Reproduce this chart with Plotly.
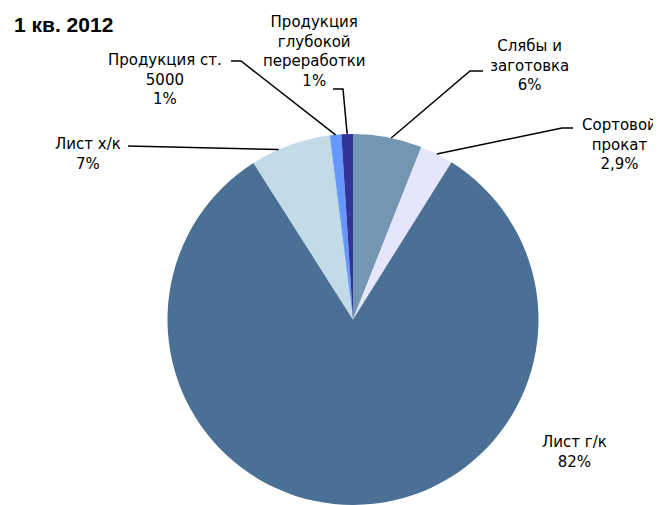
import math
import plotly.graph_objects as go

# ---- data ----
labels = ["Слябы и<br>заготовка", "Сортовой<br>прокат", "Лист г/к", "Лист х/к",
          "Продукция ст.<br>5000", "Продукция<br>глубокой<br>переработки"]
values = [6, 2.9, 82, 7, 1, 1]
pct_text = ["6%", "2,9%", "82%", "7%", "1%", "1%"]
colors = ["#7397B3", "#E6E6FA", "#4A7096", "#C3DBE6", "#6699FF", "#333399"]
title = "1 кв. 2012"

W, H = 661, 505
OFF = 8  # page body margin
CX, CY, R = 353, 319.5, 185.5

def px(x):
    return (x - OFF) / W

def py(y):
    return 1 - (y - OFF) / H

fig = go.Figure(go.Pie(
    labels=[l.replace("<br>", " ") for l in labels],
    values=values,
    sort=False,
    direction="clockwise",
    rotation=0,
    marker=dict(colors=colors, line=dict(width=0)),
    textinfo="none",
    hoverinfo="label+percent",
    domain=dict(x=[px(CX - R), px(CX + R)], y=[py(CY + R), py(CY - R)]),
    showlegend=False,
))

# label layout (pixel positions of text centers and leader elbows)
label_pos = [
    dict(tx=529, ty=66, elbow=[(470, 71), (483, 71)]),
    dict(tx=619, ty=144, elbow=[(562, 128), (573, 128)]),
    dict(tx=574, ty=452, elbow=None),
    dict(tx=88, ty=154, elbow=[(128, 146)]),
    dict(tx=165, ty=79, elbow=[(241, 61), (231, 61)]),
    dict(tx=314, ty=52, elbow=[(343, 89), (333, 89)]),
]
anchor_frac = [0.55, 0.5, None, 0.35, 0.5, 0.5]

total = sum(values)
cum = 0
for i, v in enumerate(values):
    a0 = cum / total
    cum += v
    a1 = cum / total
    lp = label_pos[i]
    fig.add_annotation(
        x=px(lp["tx"]), y=py(lp["ty"]), xref="paper", yref="paper",
        text=labels[i] + "<br>" + pct_text[i], showarrow=False,
        font=dict(family="DejaVu Sans", size=15, color="#000"),
        align="center", xanchor="center", yanchor="middle",
    )
    if lp["elbow"]:
        f = a0 + (a1 - a0) * anchor_frac[i]
        ang = f * 2 * math.pi
        ex = CX + R * math.sin(ang)
        ey = CY - R * math.cos(ang)
        pts = [(ex, ey)] + lp["elbow"]
        path = "M " + " L ".join(f"{px(x)},{py(y)}" for x, y in pts)
        fig.add_shape(type="path", path=path, xref="paper", yref="paper",
                      line=dict(color="#000", width=1.5))

fig.add_annotation(
    x=px(12), y=py(24), xref="paper", yref="paper", text="<b>" + title + "</b>",
    showarrow=False, xanchor="left", yanchor="middle",
    font=dict(family="Liberation Sans, Arial", size=21, color="#000"),
)

fig.update_layout(
    width=W, height=H,
    margin=dict(l=0, r=0, t=0, b=0),
    paper_bgcolor="white", plot_bgcolor="white",
)

fig.write_html("out.html")
